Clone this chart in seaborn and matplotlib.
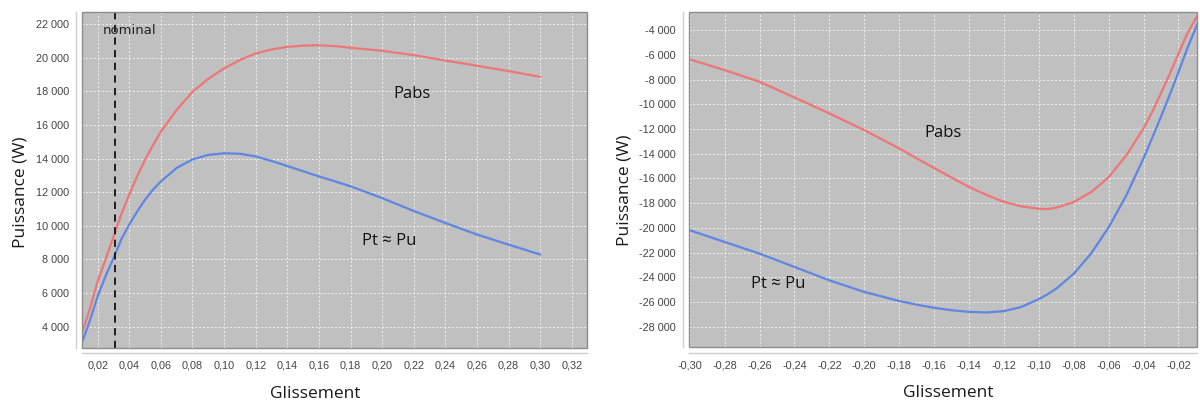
import numpy as np
import pandas as pd
import matplotlib
matplotlib.use("Agg")
import matplotlib.pyplot as plt
import seaborn as sns
from matplotlib.patches import Rectangle
from matplotlib.ticker import FixedLocator, FuncFormatter

# ---------------- data ----------------
# Left panel : motor mode (positive slip)
slip_left = [0.0105, 0.015, 0.02, 0.025, 0.031, 0.035, 0.04, 0.045, 0.05, 0.055, 0.06, 0.07, 0.08, 0.09,
             0.10, 0.11, 0.12, 0.13, 0.14, 0.15, 0.16, 0.17, 0.18, 0.20, 0.22, 0.24, 0.26, 0.28, 0.30]
pabs_left = [3740, 5030, 6700, 7990, 9610, 10700, 11850, 12950, 13930, 14800, 15610, 16900, 17980, 18750,
             19370, 19870, 20260, 20500, 20650, 20730, 20750, 20700, 20600, 20420, 20160, 19840, 19530, 19210, 18870]
pt_left = [3145, 4330, 5800, 7000, 8290, 9200, 10070, 10850, 11555, 12150, 12640, 13450, 13950, 14220,
           14320, 14290, 14130, 13860, 13560, 13250, 12940, 12650, 12350, 11650, 10880, 10170, 9480, 8880, 8290]

# Right panel : generator mode (negative slip)
slip_right = [-0.30, -0.28, -0.26, -0.24, -0.22, -0.20, -0.18, -0.17, -0.16, -0.15, -0.14, -0.13, -0.12,
              -0.11, -0.10, -0.095, -0.09, -0.08, -0.07, -0.06, -0.05, -0.04, -0.035, -0.03, -0.025, -0.02, -0.015, -0.009]
pabs_right = [-6370, -7240, -8180, -9450, -10740, -12090, -13570, -14370, -15150, -15930, -16680, -17330, -17890,
              -18250, -18450, -18480, -18360, -17900, -17100, -15900, -14150, -11950, -10600, -9100, -7550, -5900, -4300, -2790]
pt_right = [-20180, -21130, -22070, -23150, -24230, -25170, -25900, -26200, -26450, -26650, -26780, -26830, -26720,
            -26380, -25750, -25360, -24900, -23700, -22050, -19950, -17400, -14350, -12700, -11000, -9230, -7400, -5500, -3455]

nominal_slip = 0.031

xticks_left = [0.02, 0.04, 0.06, 0.08, 0.10, 0.12, 0.14, 0.16, 0.18, 0.20, 0.22, 0.24, 0.26, 0.28, 0.30, 0.32]
yticks_left = [4000, 6000, 8000, 10000, 12000, 14000, 16000, 18000, 20000, 22000]
xticks_right = [-0.30, -0.28, -0.26, -0.24, -0.22, -0.20, -0.18, -0.16, -0.14, -0.12, -0.10, -0.08, -0.06, -0.04, -0.02]
yticks_right = [-28000, -26000, -24000, -22000, -20000, -18000, -16000, -14000, -12000, -10000, -8000, -6000, -4000]

x_label = "Glissement"
y_label = "Puissance (W)"
label_pabs = "Pabs"
label_pt = "Pt ≈ Pu"
label_nominal = "nominal"

# ---------------- style ----------------
sns.set_theme(style="white")
plt.rcParams['font.family'] = ['Open Sans', 'DejaVu Sans']

BG = "#c0c0c0"
RED = "#ee7676"
BLUE = "#5f86e2"
TICKC = "#444444"

fig = plt.figure(figsize=(12, 4.03), dpi=100)
W, H = 1200, 403


def px_axes(x0, x1, y0, y1):
    return fig.add_axes([x0 / W, 1 - y1 / H, (x1 - x0) / W, (y1 - y0) / H])


ax1 = px_axes(82, 587, 12, 347.5)
ax2 = px_axes(689, 1197, 12, 347)

fmt_y = FuncFormatter(lambda v, p: f"{int(round(v)):,}".replace(",", " "))
fmt_x = FuncFormatter(lambda v, p: f"{v:.2f}".replace(".", ","))


def style_axes(ax, xticks, yticks, xlim, ylim):
    ax.set_facecolor(BG)
    ax.set_xlim(*xlim)
    ax.set_ylim(*ylim)
    ax.xaxis.set_major_locator(FixedLocator(xticks))
    ax.yaxis.set_major_locator(FixedLocator(yticks))
    ax.xaxis.set_major_formatter(fmt_x)
    ax.yaxis.set_major_formatter(fmt_y)
    ax.grid(True, color="white", linestyle=(0, (2, 2)), linewidth=0.7, alpha=0.75)
    ax.set_axisbelow(True)
    for s in ("top", "right"):
        ax.spines[s].set_visible(False)
    for s in ("left", "bottom"):
        ax.spines[s].set_visible(True)
        ax.spines[s].set_position(("outward", 4))
        ax.spines[s].set_color("#cfcfcf")
        ax.spines[s].set_linewidth(1.0)
    ax.tick_params(axis="both", which="major", direction="out", length=2.5, width=0.8,
                   color="#bbbbbb", labelcolor=TICKC, labelsize=7.8, pad=3)
    for lab in ax.get_xticklabels() + ax.get_yticklabels():
        lab.set_family(["Liberation Sans", "DejaVu Sans"])
    ax.add_patch(Rectangle((0, 0), 1, 1, transform=ax.transAxes, fill=False,
                           edgecolor="#8c8c8c", linewidth=1.0, clip_on=False, zorder=5))
    ax.set_xlabel("")
    ax.set_ylabel("")


# ---------------- left panel ----------------
df_l = pd.DataFrame({"g": slip_left, "Pabs": pabs_left, "Pt": pt_left})
sns.lineplot(data=df_l, x="g", y="Pabs", color=RED, linewidth=1.6, ax=ax1)
sns.lineplot(data=df_l, x="g", y="Pt", color=BLUE, linewidth=1.6, ax=ax1)
ax1.axvline(nominal_slip, color="#111111", linestyle=(0, (4, 3)), linewidth=1.3, zorder=4)
style_axes(ax1, xticks_left, yticks_left, (0.0101, 0.3296), (2754, 22730))
ax1.text(0.0405, 21600, label_nominal, ha="center", va="center", fontsize=9.5,
         color="#222222", family=["DejaVu Sans"], zorder=6)
ax1.text(0.219, 17850, label_pabs, ha="center", va="center", fontsize=12, color="#111111")
ax1.text(0.2045, 9100, label_pt, ha="center", va="center", fontsize=12, color="#111111")

# ---------------- right panel ----------------
df_r = pd.DataFrame({"g": slip_right, "Pabs": pabs_right, "Pt": pt_right})
sns.lineplot(data=df_r, x="g", y="Pabs", color=RED, linewidth=1.6, ax=ax2)
sns.lineplot(data=df_r, x="g", y="Pt", color=BLUE, linewidth=1.6, ax=ax2)
style_axes(ax2, xticks_right, yticks_right, (-0.3004, -0.0094), (-29620, -2544))
ax2.text(-0.155, -12360, label_pabs, ha="center", va="center", fontsize=12, color="#111111")
ax2.text(-0.2495, -24550, label_pt, ha="center", va="center", fontsize=12, color="#111111")

for ax, xl in ((ax1, 0.461), (ax2, 0.51)):
    ax.set_xlabel(x_label, fontsize=12.5, color="#1a1a1a")
    ax.set_ylabel(y_label, fontsize=12.5, color="#1a1a1a")
    ax.xaxis.set_label_coords(xl, -0.114)

ax1.yaxis.set_label_coords(-0.105, 0.4635)
ax2.yaxis.set_label_coords(-0.112, 0.467)

fig.savefig("out.png", dpi=100, facecolor="white")
